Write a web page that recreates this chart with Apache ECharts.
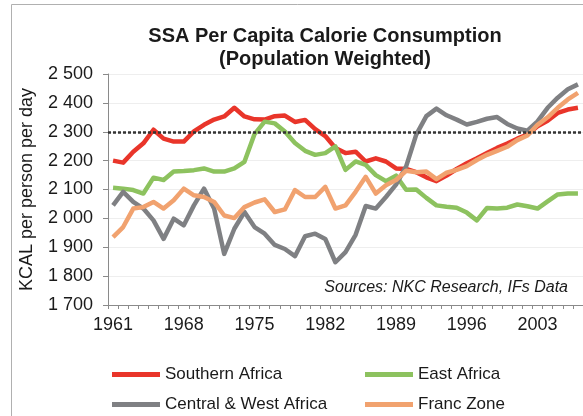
<!DOCTYPE html>
<html>
<head>
<meta charset="utf-8">
<script src="https://cdn.jsdelivr.net/npm/echarts@6/dist/echarts.min.js"></script>
<style>
  html, body { margin: 0; padding: 0; background: #fff; }
  #main { width: 583px; height: 416px; }
</style>
</head>
<body>
<div id="main"></div>
<script>
// years shown on the category axis (labels every 7th year)
var years = [];
for (var y = 1961; y <= 2007; y++) years.push(String(y));

var southernAfrica = [2200, 2193, 2231, 2260, 2307, 2276, 2266, 2266, 2301, 2324,
  2342, 2353, 2383, 2353, 2343, 2342, 2354, 2356, 2334, 2341,
  2309, 2285, 2244, 2226, 2231, 2197, 2208, 2197, 2173, 2171,
  2160, 2142, 2129, 2148, 2171, 2191, 2208, 2226, 2244, 2259,
  2276, 2290, 2319, 2338, 2365, 2377, 2383];

var eastAfrica = [2106, 2103, 2098, 2086, 2141, 2133, 2162, 2164, 2167, 2173,
  2162, 2162, 2173, 2196, 2292, 2335, 2329, 2301, 2261, 2234,
  2220, 2226, 2249, 2168, 2197, 2185, 2150, 2129, 2148, 2099,
  2100, 2071, 2045, 2040, 2037, 2020, 1993, 2036, 2034, 2037,
  2048, 2042, 2034, 2059, 2083, 2086, 2086];

var centralWestAfrica = [2045, 2092, 2057, 2034, 1993, 1929, 1999, 1976, 2045, 2103,
  2034, 1877, 1964, 2022, 1970, 1947, 1908, 1894, 1869, 1938,
  1947, 1929, 1848, 1883, 1943, 2043, 2034, 2074, 2117, 2180,
  2290, 2354, 2380, 2357, 2342, 2325, 2334, 2345, 2351, 2327,
  2311, 2304, 2336, 2383, 2418, 2447, 2464];

var francZone = [1935, 1970, 2034, 2039, 2057, 2034, 2063, 2103, 2080, 2074,
  2057, 2010, 2001, 2039, 2055, 2066, 2022, 2031, 2098, 2074,
  2074, 2109, 2034, 2045, 2092, 2144, 2086, 2115, 2133, 2165,
  2160, 2162, 2136, 2158, 2168, 2181, 2202, 2220, 2234, 2248,
  2271, 2287, 2324, 2350, 2383, 2412, 2435];

var threshold = 2300;

var font = 'Liberation Sans, Arial, Helvetica, sans-serif';

function lineSeries(name, data, color) {
  return {
    name: name,
    type: 'line',
    data: data,
    symbol: 'none',
    lineStyle: { color: color, width: 4.5, join: 'round' },
    itemStyle: { color: color }
  };
}

// one legend per entry, laid out as a 2x2 block under the axis
function legendItem(name, left, top) {
  return {
    data: [name],
    left: left,
    top: top,
    itemWidth: 48,
    itemHeight: 5,
    icon: 'rect',
    textStyle: { fontSize: 17, color: '#1a1a1a', fontFamily: font }
  };
}

var series = [
  lineSeries('Southern Africa', southernAfrica, '#e9352a'),
  lineSeries('East Africa', eastAfrica, '#8dc25f'),
  lineSeries('Central & West Africa', centralWestAfrica, '#7f8083'),
  lineSeries('Franc Zone', francZone, '#f1a26f')
];

// dotted 2 300 reference line
series[0].markLine = {
  silent: true,
  symbol: 'none',
  label: { show: false },
  lineStyle: { color: '#333', type: [3, 2], width: 2.5 },
  data: [{ yAxis: threshold }]
};

var option = {
  backgroundColor: '#fff',
  animation: false,
  textStyle: { fontFamily: font },
  title: {
    text: 'SSA Per Capita Calorie Consumption\n(Population Weighted)',
    left: 320,
    top: 20,
    textAlign: 'center',
    textStyle: { fontSize: 20, fontWeight: 'bold', color: '#1a1a1a', lineHeight: 23, fontFamily: font }
  },
  grid: { left: 108, top: 74, width: 479, height: 231 },
  xAxis: {
    type: 'category',
    data: years,
    boundaryGap: true,
    axisLine: { lineStyle: { color: '#8a8a8a', width: 1 } },
    axisTick: { show: true, interval: 0, length: 4, lineStyle: { color: '#8a8a8a' } },
    axisLabel: { interval: 6, margin: 11, fontSize: 18, color: '#1a1a1a', fontFamily: font },
    splitLine: { show: false }
  },
  yAxis: {
    type: 'value',
    min: 1700,
    max: 2500,
    interval: 100,
    name: 'KCAL per person per day',
    nameLocation: 'middle',
    nameGap: 72,
    nameTextStyle: { fontSize: 18, color: '#1a1a1a', fontFamily: font },
    axisLine: { show: true, lineStyle: { color: '#8a8a8a', width: 1 } },
    axisTick: { show: true, length: 5, lineStyle: { color: '#8a8a8a' } },
    axisLabel: {
      margin: 15,
      fontSize: 18,
      color: '#1a1a1a',
      fontFamily: font,
      formatter: function (v) {
        return String(v).replace(/\B(?=(\d{3})+(?!\d))/g, ' ');
      }
    },
    splitLine: { show: true, lineStyle: { color: '#eeeeee', width: 1 } }
  },
  legend: [
    legendItem('Southern Africa', 107, 361),
    legendItem('East Africa', 360, 361),
    legendItem('Central & West Africa', 107, 391),
    legendItem('Franc Zone', 360, 391)
  ],
  graphic: [
    {
      type: 'rect',
      silent: true,
      shape: { x: 11.5, y: 4.5, width: 700, height: 600 },
      style: { fill: 'none', stroke: '#b0b0b0', lineWidth: 1 }
    },
    {
      type: 'text',
      silent: true,
      x: 568,
      y: 288,
      style: {
        text: 'Sources: NKC Research, IFs Data',
        textAlign: 'right',
        textVerticalAlign: 'middle',
        font: 'italic 16px ' + font,
        fill: '#1a1a1a'
      }
    }
  ],
  series: series
};

var chart = echarts.init(document.getElementById('main'));
chart.setOption(option);
</script>
</body>
</html>
